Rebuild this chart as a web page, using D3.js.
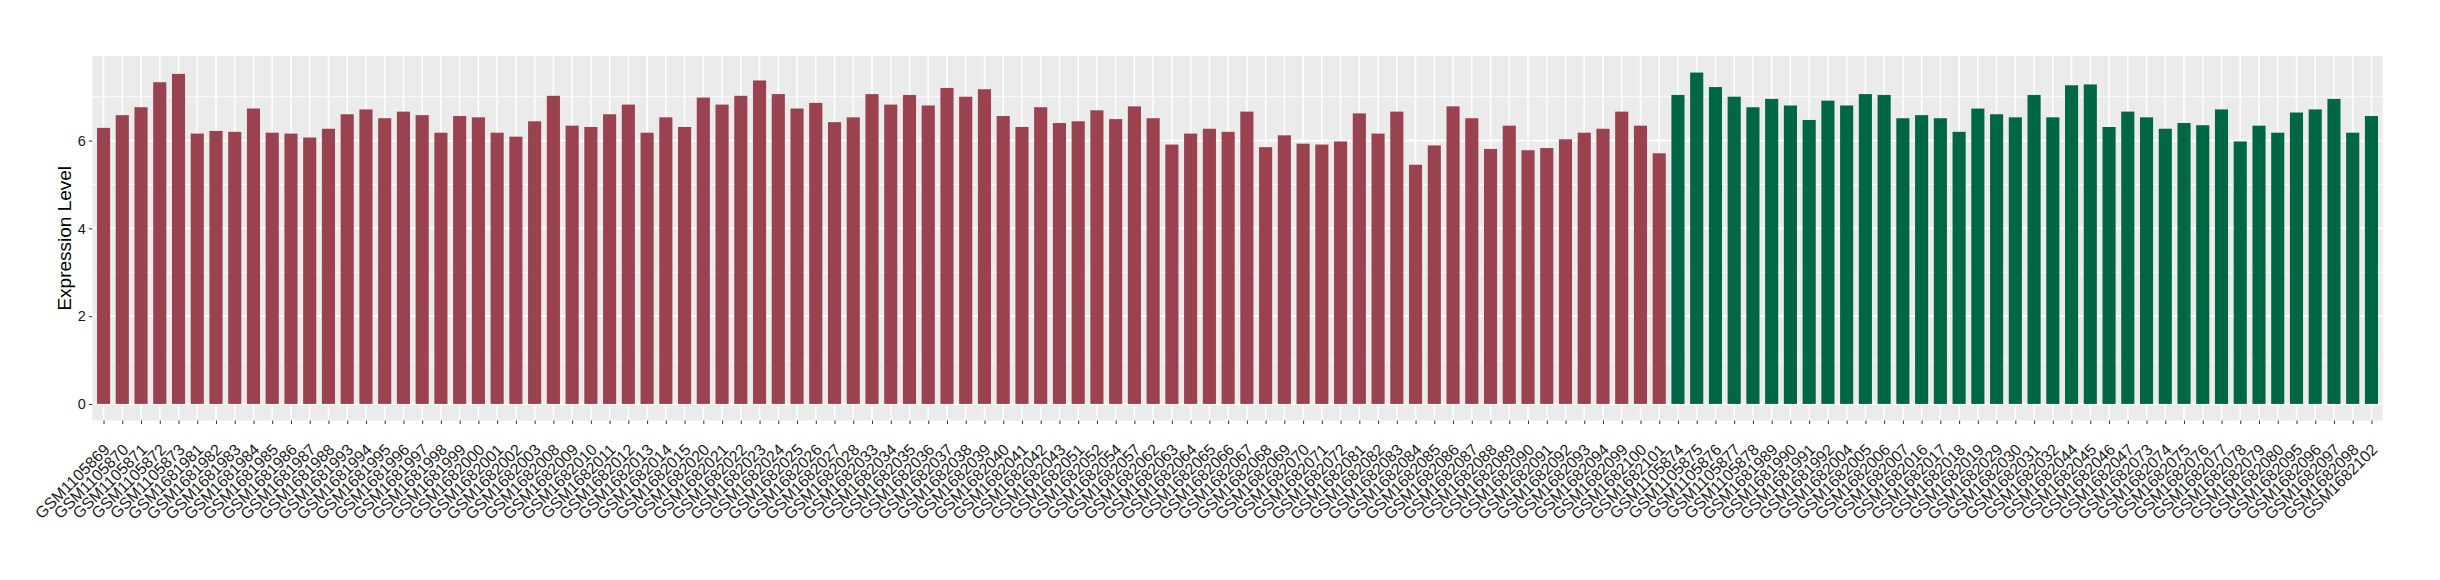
<!DOCTYPE html>
<html>
<head>
<meta charset="utf-8">
<script src="https://cdn.jsdelivr.net/npm/d3@7"></script>
<style>
  html, body { margin: 0; padding: 0; background: #fff; }
  svg { display: block; }
</style>
</head>
<body>
<svg id="chart" width="2440" height="580"></svg>
<script>
// ---- data ----
const groupASamples = [
  "GSM1105869","GSM1105870","GSM1105871","GSM1105872","GSM1105873",
  "GSM1681981","GSM1681982","GSM1681983","GSM1681984","GSM1681985","GSM1681986","GSM1681987","GSM1681988",
  "GSM1681993","GSM1681994","GSM1681995","GSM1681996","GSM1681997","GSM1681998","GSM1681999",
  "GSM1682000","GSM1682001","GSM1682002","GSM1682003","GSM1682008","GSM1682009","GSM1682010","GSM1682011",
  "GSM1682012","GSM1682013","GSM1682014","GSM1682015","GSM1682020","GSM1682021","GSM1682022","GSM1682023",
  "GSM1682024","GSM1682025","GSM1682026","GSM1682027","GSM1682028","GSM1682033","GSM1682034","GSM1682035",
  "GSM1682036","GSM1682037","GSM1682038","GSM1682039","GSM1682040","GSM1682041","GSM1682042","GSM1682043",
  "GSM1682051","GSM1682052","GSM1682054","GSM1682057","GSM1682062","GSM1682063","GSM1682064","GSM1682065",
  "GSM1682066","GSM1682067","GSM1682068","GSM1682069","GSM1682070","GSM1682071","GSM1682072","GSM1682081",
  "GSM1682082","GSM1682083","GSM1682084","GSM1682085","GSM1682086","GSM1682087","GSM1682088","GSM1682089",
  "GSM1682090","GSM1682091","GSM1682092","GSM1682093","GSM1682094","GSM1682099","GSM1682100","GSM1682101"
];
const groupAValues = [
  6.29,6.58,6.76,7.33,7.52,
  6.16,6.22,6.20,6.73,6.18,6.16,6.07,6.27,
  6.60,6.71,6.51,6.66,6.58,6.18,6.56,
  6.53,6.18,6.09,6.44,7.02,6.34,6.31,6.60,
  6.82,6.18,6.53,6.31,6.98,6.82,7.02,7.37,
  7.06,6.73,6.86,6.42,6.53,7.06,6.82,7.04,
  6.80,7.20,7.00,7.17,6.56,6.31,6.76,6.40,
  6.44,6.69,6.49,6.78,6.51,5.91,6.16,6.27,
  6.20,6.66,5.85,6.12,5.93,5.91,5.98,6.62,
  6.16,6.66,5.45,5.89,6.78,6.51,5.81,6.34,
  5.78,5.83,6.03,6.18,6.27,6.66,6.34,5.71
];
const groupBSamples = [
  "GSM1105874","GSM1105875","GSM1105876","GSM1105877","GSM1105878",
  "GSM1681989","GSM1681990","GSM1681991","GSM1681992","GSM1682004","GSM1682005","GSM1682006","GSM1682007",
  "GSM1682016","GSM1682017","GSM1682018","GSM1682019","GSM1682029","GSM1682030","GSM1682031","GSM1682032",
  "GSM1682044","GSM1682045","GSM1682046","GSM1682047","GSM1682073","GSM1682074","GSM1682075","GSM1682076",
  "GSM1682077","GSM1682078","GSM1682079","GSM1682080","GSM1682095","GSM1682096","GSM1682097","GSM1682098",
  "GSM1682102"
];
const groupBValues = [
  7.04,7.55,7.22,7.00,6.76,
  6.95,6.80,6.47,6.91,6.80,7.06,7.04,6.51,
  6.58,6.51,6.20,6.73,6.60,6.53,7.04,6.53,
  7.26,7.28,6.31,6.66,6.53,6.27,6.40,6.35,
  6.71,5.98,6.34,6.18,6.64,6.71,6.95,6.18,
  6.56
];
const yTicks = [0, 2, 4, 6];
const yMinorTicks = [1, 3, 5, 7];
const yTitle = "Expression Level";
const groupColors = { A: "#9a4250", B: "#006746" };

// ---- build rows ----
const rows = groupASamples.map((s, i) => ({ sample: s, value: groupAValues[i], group: "A" }))
  .concat(groupBSamples.map((s, i) => ({ sample: s, value: groupBValues[i], group: "B" })));

// ---- layout ----
const FONT = "'Liberation Sans', Arial, Helvetica, sans-serif";
const svg = d3.select("#chart");
const panel = { left: 92.3, right: 2382.7, top: 56, bottom: 420.5 };

const x = d3.scalePoint()
  .domain(rows.map(d => d.sample))
  .range([panel.left, panel.right])
  .padding(0.6);
const step = x.step();
const barW = step * 0.7;

const maxV = d3.max(rows, d => d.value);
const y = d3.scaleLinear()
  .domain([-0.05 * maxV, 1.05 * maxV])
  .range([panel.bottom, panel.top]);

// panel background
svg.append("rect")
  .attr("x", panel.left).attr("y", panel.top)
  .attr("width", panel.right - panel.left).attr("height", panel.bottom - panel.top)
  .attr("fill", "#ebebeb");

// minor grid
svg.append("g").selectAll("line").data(yMinorTicks).join("line")
  .attr("x1", panel.left).attr("x2", panel.right)
  .attr("y1", d => y(d)).attr("y2", d => y(d))
  .attr("stroke", "#fff").attr("stroke-width", 0.8);

// major grid
svg.append("g").selectAll("line").data(yTicks).join("line")
  .attr("x1", panel.left).attr("x2", panel.right)
  .attr("y1", d => y(d)).attr("y2", d => y(d))
  .attr("stroke", "#fff").attr("stroke-width", 1.6);
svg.append("g").selectAll("line").data(rows).join("line")
  .attr("x1", d => x(d.sample)).attr("x2", d => x(d.sample))
  .attr("y1", panel.top).attr("y2", panel.bottom)
  .attr("stroke", "#fff").attr("stroke-width", 1.6);

// bars
svg.append("g").selectAll("rect").data(rows).join("rect")
  .attr("x", d => x(d.sample) - barW / 2)
  .attr("width", barW)
  .attr("y", d => y(d.value))
  .attr("height", d => y(0) - y(d.value))
  .attr("fill", d => groupColors[d.group]);

// y axis
const yAxis = d3.axisLeft(y).tickValues(yTicks).tickSize(3.5).tickPadding(3);
const gy = svg.append("g").attr("transform", `translate(${panel.left},0)`).call(yAxis);
gy.attr("font-size", null).attr("font-family", null);
gy.select(".domain").remove();
gy.selectAll(".tick line").attr("stroke", "#333").attr("stroke-width", 1);
gy.selectAll(".tick text")
  .attr("fill", "#1a1a1a")
  .style("font-family", FONT)
  .style("font-size", "14.5px");

// x axis
const xAxis = d3.axisBottom(x).tickSize(3.5).tickPadding(2);
const gx = svg.append("g").attr("transform", `translate(0,${panel.bottom})`).call(xAxis);
gx.attr("font-size", null).attr("font-family", null);
gx.select(".domain").remove();
gx.selectAll(".tick line").attr("stroke", "#333").attr("stroke-width", 1);
gx.selectAll(".tick text")
  .attr("fill", "#1a1a1a")
  .style("font-family", FONT)
  .style("font-size", "16px")
  .attr("text-anchor", "end")
  .attr("y", 0)
  .attr("dy", "0.72em")
  .attr("transform", "translate(-1.5,22) rotate(-45)");

// y title
svg.append("text")
  .attr("transform", `translate(71,${(panel.top + panel.bottom) / 2}) rotate(-90)`)
  .attr("text-anchor", "middle")
  .attr("fill", "#000")
  .style("font-family", FONT)
  .style("font-size", "19px")
  .text(yTitle);
</script>
</body>
</html>
